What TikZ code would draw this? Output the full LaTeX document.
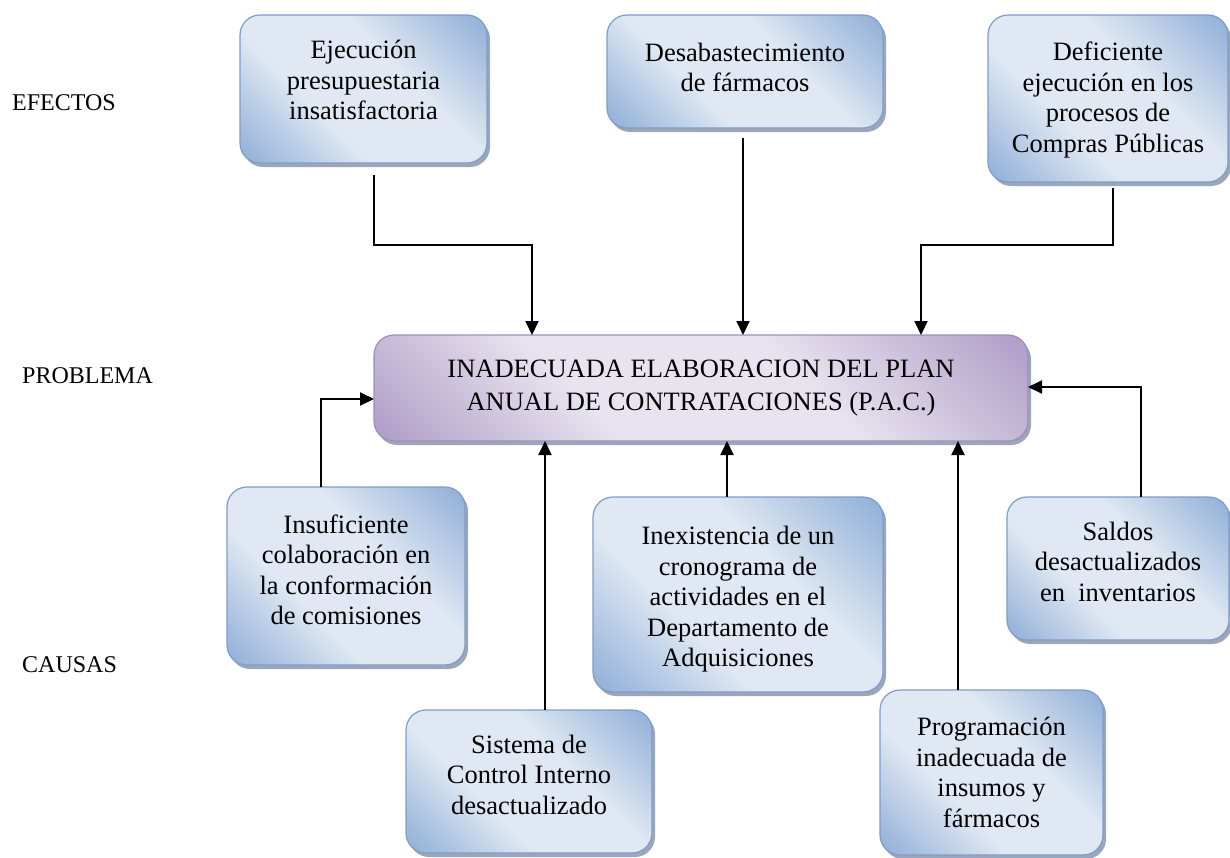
\documentclass[tikz,border=0pt]{standalone}
\usepackage{fontspec}
\setmainfont{Liberation Serif}
\usetikzlibrary{arrows.meta,shadows,calc}

\definecolor{bluedark}{HTML}{93B1D8}
\definecolor{bluelight}{HTML}{DFE8F3}
\definecolor{blueline}{HTML}{7E9CCB}
\definecolor{lilacdark}{HTML}{B1A0C8}
\definecolor{lilaclight}{HTML}{E8E3EF}
\definecolor{lilacline}{HTML}{A08DC0}
\definecolor{shadowgray}{HTML}{8A97AC}

% diagonal sheen: darker towards two opposite corners, pale across the middle
\pgfdeclarehorizontalshading{bluesheen}{100bp}{color(0bp)=(bluedark); color(16bp)=(bluedark);
  color(38bp)=(bluelight); color(60bp)=(bluelight); color(84bp)=(bluedark); color(100bp)=(bluedark)}
\pgfdeclarehorizontalshading{lilacsheen}{100bp}{color(0bp)=(lilacdark); color(16bp)=(lilacdark);
  color(38bp)=(lilaclight); color(60bp)=(lilaclight); color(84bp)=(lilacdark); color(100bp)=(lilacdark)}

% text block moved up (or down) inside its box without changing the box
\newcommand{\liftlines}[2]{\raisebox{#1}[\height][\depth]{\begin{tabular}{@{}c@{}}#2\end{tabular}}}

\tikzset{
  box/.style={draw=blueline, line width=1.2pt, rounded corners=20pt,
    shade, shading=bluesheen, shading angle=45,
    inner sep=0pt, outer sep=0pt, align=center,
    font=\fontsize{26.5}{30.5}\selectfont,
    drop shadow={shadow xshift=3pt, shadow yshift=-4pt, fill=shadowgray, opacity=0.85}},
  probbox/.style={box, draw=lilacline, shading=lilacsheen,
    font=\fontsize{26.5}{33}\selectfont},
  lab/.style={anchor=west, inner sep=0pt, font=\fontsize{24}{28}\selectfont},
  link/.style={line width=2pt, -{Triangle[length=14pt,width=13pt]}},
}

\begin{document}
\begin{tikzpicture}[x=1pt, y=-1pt]
  \useasboundingbox (0,0) rectangle (1230,857);

  % row labels
  \node[lab] (lef) at (12,103) {EFECTOS};
  \node[lab] (lpr) at (22,376) {PROBLEMA};
  \node[lab] (lca) at (22,665) {CAUSAS};

  % effects
  \node[box, minimum width=247, minimum height=148] (A) at (363.5,89)
    {\liftlines{6pt}{Ejecución\\presupuestaria\\insatisfactoria}};
  \node[box, minimum width=276, minimum height=113] (B) at (745,71.5)
    {\liftlines{1pt}{Desabastecimiento\\de fármacos}};
  \node[box, minimum width=240, minimum height=167] (C) at (1108,98.5)
    {\liftlines{-2pt}{Deficiente\\ejecución en los\\procesos de\\Compras Públicas}};

  % central problem
  \node[probbox, minimum width=654, minimum height=106] (P) at (701,388)
    {INADECUADA ELABORACION DEL PLAN\\ANUAL DE CONTRATACIONES (P.A.C.)};

  % causes
  \node[box, minimum width=238, minimum height=178] (D) at (346,576)
    {\liftlines{3pt}{Insuficiente\\colaboración en\\la conformación\\de comisiones}};
  \node[box, minimum width=290, minimum height=195] (F) at (738,594.5)
    {\liftlines{-5pt}{Inexistencia de un\\cronograma de\\actividades en el\\Departamento de\\Adquisiciones}};
  \node[box, minimum width=222, minimum height=143] (H) at (1118,568.5)
    {\liftlines{4pt}{Saldos\\desactualizados\\en\ \ inventarios}};
  \node[box, minimum width=246, minimum height=143] (E) at (529,781.5)
    {\liftlines{4pt}{Sistema de\\Control Interno\\desactualizado}};
  \node[box, minimum width=223, minimum height=165] (G) at (991.5,772.5)
    {Programación\\inadecuada de\\insumos y\\fármacos};

  % effects pointing to the problem
  \draw[link] ($(A.south)+(10.5,12)$) -- ++(0,70) -| (P.north -| 532,0);
  \draw[link] ($(B.south)+(-2,10)$) -- (P.north -| 743,0);
  \draw[link] ($(C.south)+(5,6)$) -- ++(0,57) -| (P.north -| 921,0);

  % causes pointing to the problem
  \draw[link] (D.north -| 321,0) |- (P.west |- 0,399);
  \draw[link] (E.north -| 545,0) -- (P.south -| 545,0);
  \draw[link] (F.north -| 727,0) -- (P.south -| 727,0);
  \draw[link] (G.north -| 958,0) -- (P.south -| 958,0);
  \draw[link] (H.north -| 1141,0) |- (P.east |- 0,387);
\end{tikzpicture}
\end{document}
